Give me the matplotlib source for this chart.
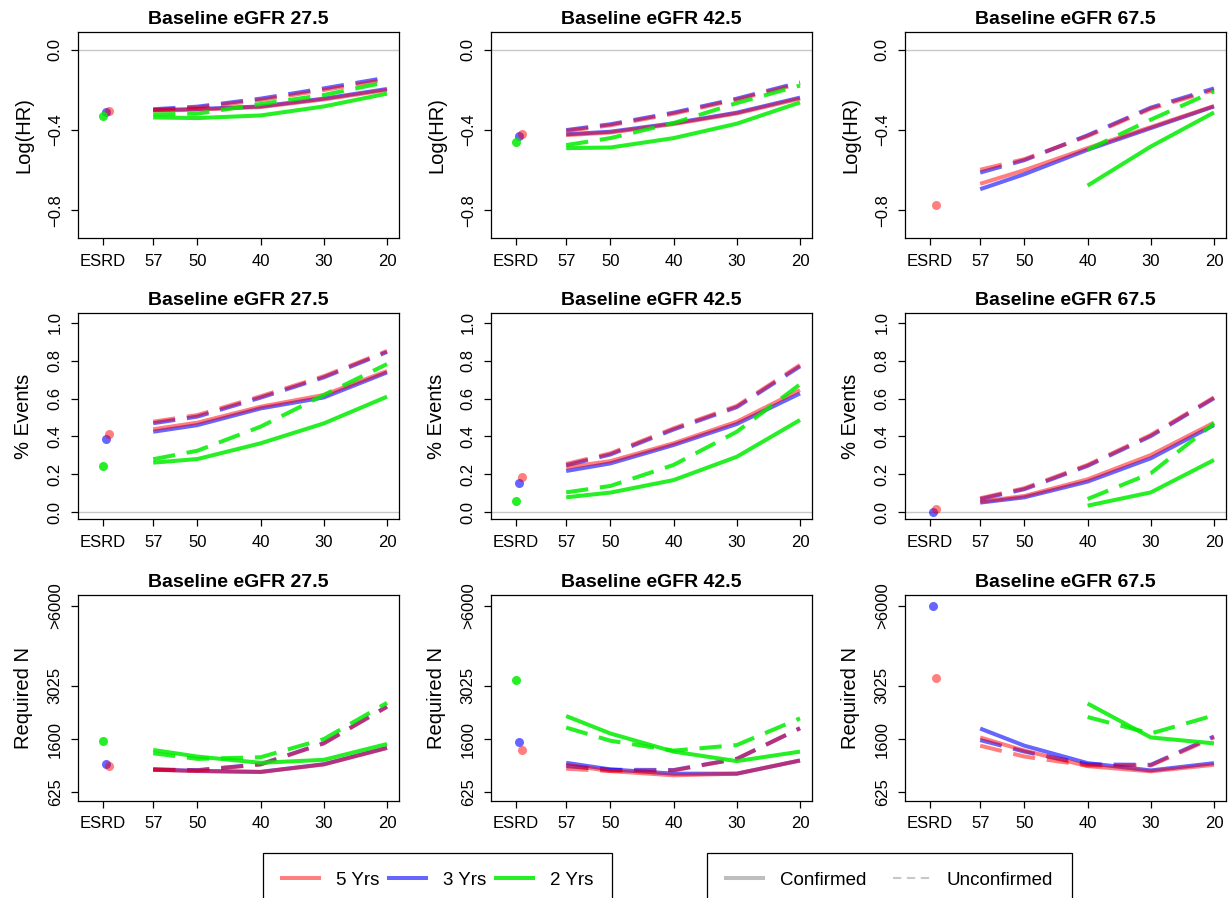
import numpy as np
import matplotlib
matplotlib.use("Agg")
import matplotlib.pyplot as plt
from matplotlib.lines import Line2D

plt.rcParams['font.family'] = ['Liberation Sans', 'DejaVu Sans']
plt.rcParams['lines.scale_dashes'] = False

nan = np.nan

# x axis: eGFR threshold reached, ESRD shown to the left
egfr_change = [57, 50, 40, 30, 20]
esrd_x = 65
x_ticks = [65, 57, 50, 40, 30, 20]
x_labels = ['ESRD', '57', '50', '40', '30', '20']
baselines = ['27.5', '42.5', '67.5']

# row 1: Log(HR), one list per baseline panel
loghr_esrd_5 = [-0.307, -0.420, -0.773]
loghr_esrd_3 = [-0.312, -0.428, nan]
loghr_esrd_2 = [-0.332, -0.457, nan]
loghr_conf_5 = [[-0.303, -0.298, -0.285, -0.247, -0.200],
                [-0.425, -0.412, -0.370, -0.317, -0.243],
                [-0.668, -0.600, -0.490, -0.385, -0.280]]
loghr_conf_3 = [[-0.300, -0.295, -0.282, -0.243, -0.195],
                [-0.421, -0.408, -0.366, -0.313, -0.238],
                [-0.695, -0.620, -0.498, -0.390, -0.282]]
loghr_conf_2 = [[-0.337, -0.340, -0.327, -0.282, -0.218],
                [-0.490, -0.487, -0.440, -0.368, -0.262],
                [nan, nan, -0.677, -0.482, -0.312]]
loghr_unconf_5 = [[-0.300, -0.288, -0.250, -0.200, -0.147],
                  [-0.404, -0.376, -0.318, -0.248, -0.168],
                  [-0.598, -0.545, -0.430, -0.293, -0.200]]
loghr_unconf_3 = [[-0.296, -0.283, -0.243, -0.192, -0.138],
                  [-0.400, -0.371, -0.313, -0.243, -0.162],
                  [-0.612, -0.550, -0.426, -0.288, -0.192]]
loghr_unconf_2 = [[-0.322, -0.318, -0.270, -0.225, -0.160],
                  [-0.475, -0.440, -0.365, -0.265, -0.178],
                  [nan, nan, -0.498, -0.348, -0.207]]

# row 2: % Events
events_esrd_5 = [0.411, 0.185, 0.018]
events_esrd_3 = [0.387, 0.153, 0.000]
events_esrd_2 = [0.244, 0.062, nan]
events_conf_5 = [[0.438, 0.473, 0.557, 0.619, 0.745],
                 [0.237, 0.270, 0.364, 0.478, 0.645],
                 [0.056, 0.086, 0.174, 0.302, 0.473]]
events_conf_3 = [[0.425, 0.460, 0.548, 0.606, 0.738],
                 [0.218, 0.258, 0.355, 0.466, 0.627],
                 [0.051, 0.079, 0.162, 0.285, 0.460]]
events_conf_2 = [[0.262, 0.281, 0.364, 0.469, 0.610],
                 [0.079, 0.104, 0.170, 0.293, 0.487],
                 [nan, nan, 0.035, 0.105, 0.276]]
events_unconf_5 = [[0.478, 0.513, 0.612, 0.718, 0.851],
                   [0.255, 0.311, 0.443, 0.561, 0.777],
                   [0.074, 0.127, 0.250, 0.408, 0.606]]
events_unconf_3 = [[0.470, 0.505, 0.605, 0.712, 0.846],
                   [0.248, 0.305, 0.437, 0.555, 0.770],
                   [0.070, 0.122, 0.245, 0.402, 0.602]]
events_unconf_2 = [[0.280, 0.325, 0.452, 0.619, 0.782],
                   [0.105, 0.139, 0.250, 0.425, 0.675],
                   [nan, nan, 0.070, 0.206, 0.469]]

# row 3: Required N (values above 6000 shown at 6000)
reqn_esrd_5 = [1044, 1365, 3284]
reqn_esrd_3 = [1080, 1527, 6000]
reqn_esrd_2 = [1548, 3211, nan]
reqn_conf_5 = [[985, 961, 945, 1080, 1406],
               [1074, 962, 889, 917, 1155],
               [1637, 1351, 1050, 957, 1074]]
reqn_conf_3 = [[990, 965, 948, 1085, 1410],
               [1111, 991, 917, 917, 1155],
               [1846, 1455, 1105, 973, 1105]]
reqn_conf_2 = [[1365, 1231, 1111, 1168, 1491],
               [2160, 1728, 1331, 1143, 1331],
               [nan, nan, 2500, 1637, 1505]]
reqn_unconf_5 = [[985, 973, 1080, 1505, 2408],
                 [1003, 962, 973, 1186, 1854],
                 [1455, 1231, 1062, 1062, 1637]]
reqn_unconf_3 = [[990, 978, 1085, 1510, 2415],
                 [1050, 985, 980, 1186, 1854],
                 [1578, 1331, 1080, 1074, 1660]]
reqn_unconf_2 = [[1297, 1186, 1218, 1600, 2519],
                 [1870, 1563, 1351, 1469, 2100],
                 [nan, nan, 2134, 1728, 2178]]

col_red = (1, 0, 0, 0.5)
col_blue = (0, 0, 1, 0.6)
col_green = (0, 0.93, 0, 0.85)
esrd_offset = {'2': 0.0, '3': -0.5, '5': -1.0}

rows = [
    ('Log(HR)', (loghr_esrd_5, loghr_esrd_3, loghr_esrd_2),
     (loghr_conf_5, loghr_conf_3, loghr_conf_2),
     (loghr_unconf_5, loghr_unconf_3, loghr_unconf_2)),
    ('% Events', (events_esrd_5, events_esrd_3, events_esrd_2),
     (events_conf_5, events_conf_3, events_conf_2),
     (events_unconf_5, events_unconf_3, events_unconf_2)),
    ('Required N', (reqn_esrd_5, reqn_esrd_3, reqn_esrd_2),
     (reqn_conf_5, reqn_conf_3, reqn_conf_2),
     (reqn_unconf_5, reqn_unconf_3, reqn_unconf_2)),
]

fig = plt.figure(figsize=(12.32, 8.98), dpi=100)
W, H = 1232, 898
lefts = [78, 491, 905]
bottoms = [238.3, 519.3, 801]
aw, ah = 321, 206

for r, (ylab, esrd, conf, unconf) in enumerate(rows):
    for c in range(3):
        ax = fig.add_axes([lefts[c] / W, 1 - bottoms[r] / H, aw / W, ah / H])
        if r == 2:
            ax.set_yscale('function', functions=(lambda v: np.sqrt(np.clip(v, 0, None)), np.square))
        else:
            ax.axhline(0, color='#c8c8c8', lw=1, zorder=0)
        # blue first, red over it, green on top
        for k, col, key in [(1, col_blue, '3'), (0, col_red, '5'), (2, col_green, '2')]:
            ax.plot(egfr_change, conf[k][c], color=col, lw=2.9, solid_capstyle='butt')
            ax.plot(egfr_change, unconf[k][c], color=col, lw=2.9, dashes=(16, 8.5),
                    dash_capstyle='butt')
            ax.plot([esrd_x + esrd_offset[key]], [esrd[k][c]], 'o', ms=6.5,
                    color=col, mec='none')
        ax.set_xlim(68.9, 18.1)
        ax.set_xticks(x_ticks)
        ax.set_xticklabels(x_labels)
        if r == 0:
            ax.set_ylim(-0.94, 0.088)
            ax.set_yticks([0.0, -0.4, -0.8])
            ax.set_yticklabels(['0.0', '\u22120.4', '\u22120.8'])
        elif r == 1:
            ax.set_ylim(-0.037, 1.05)
            ax.set_yticks([0.0, 0.2, 0.4, 0.6, 0.8, 1.0])
            ax.set_yticklabels(['0.0', '0.2', '0.4', '0.6', '0.8', '1.0'])
        else:
            ax.set_ylim(22.6 ** 2, 80.5 ** 2)
            ax.set_yticks([625, 1600, 3025, 6000])
            ax.set_yticklabels(['625', '1600', '3025', '>6000'])
            ax.yaxis.set_minor_locator(matplotlib.ticker.NullLocator())
        ax.tick_params(axis='both', direction='out', length=5, width=0.9,
                       labelsize=12, pad=6)
        ax.tick_params(axis='y', labelrotation=90)
        for t in ax.get_yticklabels():
            t.set_va('center')
        for s in ax.spines.values():
            s.set_linewidth(0.9)
        ax.set_title('Baseline eGFR ' + baselines[c], fontsize=14, fontweight='bold', pad=6)
        ax.set_ylabel(ylab, fontsize=14.5)
        ax.yaxis.set_label_coords(-0.14, 0.5)

h1 = [Line2D([], [], color=col_red, lw=2.9),
      Line2D([], [], color=col_blue, lw=2.9),
      Line2D([], [], color=col_green, lw=2.9)]
leg1 = fig.legend(h1, ['5 Yrs', '3 Yrs', '2 Yrs'], ncol=3, loc='upper left',
                  bbox_to_anchor=(263 / W, 0, (612 - 263) / W, 1 - 853 / H), mode='expand',
                  fontsize=13.5, frameon=True, fancybox=False, edgecolor='black',
                  framealpha=1, borderpad=1.0, handlelength=2.0, handletextpad=0.9,
                  columnspacing=0.9, borderaxespad=0)
leg1.get_frame().set_linewidth(0.9)

h2 = [Line2D([], [], color='#bebebe', lw=2.9),
      Line2D([], [], color='#c8c8c8', lw=1.5, dashes=(6, 4))]
leg2 = fig.legend(h2, ['Confirmed', 'Unconfirmed'], ncol=2, loc='upper left',
                  bbox_to_anchor=(707 / W, 0, (1072 - 707) / W, 1 - 853 / H), mode='expand',
                  fontsize=13.5, frameon=True, fancybox=False, edgecolor='black',
                  framealpha=1, borderpad=1.0, handlelength=2.0, handletextpad=0.9,
                  columnspacing=0.9, borderaxespad=0)
leg2.get_frame().set_linewidth(0.9)

fig.savefig('out.png', dpi=100)
